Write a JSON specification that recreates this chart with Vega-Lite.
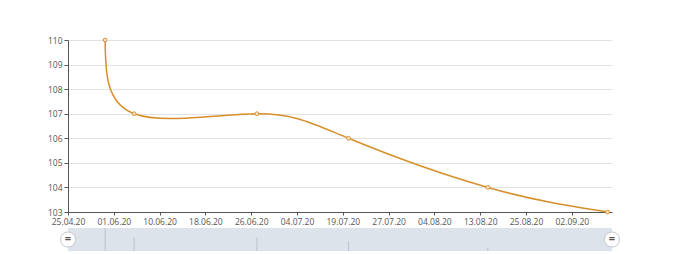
{
  "$schema": "https://vega.github.io/schema/vega-lite/v6.json",
  "padding": {"left": 47, "top": 36, "right": 5, "bottom": 0},
  "background": "white",
  "bounds": "flush",
  "config": {
    "font": "Open Sans",
    "view": {"stroke": null},
    "concat": {"spacing": 16}
  },
  "datasets": {
    "series": [
      {"date": "2020-05-25", "value": 110},
      {"date": "2020-06-05", "value": 107},
      {"date": "2020-06-27", "value": 107},
      {"date": "2020-07-20", "value": 106},
      {"date": "2020-08-15", "value": 104},
      {"date": "2020-09-10", "value": 103}
    ],
    "scroll": [
      {"handle": "start", "date": "2020-04-25"},
      {"handle": "end", "date": "2020-09-11"}
    ]
  },
  "vconcat": [
    {
      "width": 544,
      "height": 172,
      "data": {"name": "series", "format": {"parse": {"date": "date"}}},
      "encoding": {
        "x": {
          "field": "date",
          "type": "quantitative",
          "scale": {
            "type": "linear",
            "nice": false,
            "zero": false,
            "domain": [1587772800000, 1590969600000, 1591747200000, 1592438400000, 1593129600000, 1593820800000, 1595116800000, 1595808000000, 1596499200000, 1597276800000, 1598313600000, 1599004800000, 1599782400000],
            "range": [0, 45.8, 91.6, 137.4, 183.2, 229, 274.8, 320.6, 366.4, 412.2, 458, 503.8, 544]
          },
          "axis": {
            "title": null,
            "values": [1587772800000, 1590969600000, 1591747200000, 1592438400000, 1593129600000, 1593820800000, 1595116800000, 1595808000000, 1596499200000, 1597276800000, 1598313600000, 1599004800000],
            "labelExpr": "utcFormat(datum.value, '%d.%m.%y')",
            "grid": false,
            "domainColor": "#555555",
            "tickColor": "#555555",
            "tickSize": 3,
            "labelPadding": 2,
            "labelColor": "#555555",
            "labelFontSize": 8.5,
            "labelFont": "Open Sans",
            "labelOverlap": false,
            "labelFlush": false
          }
        },
        "y": {
          "field": "value",
          "type": "quantitative",
          "scale": {"domain": [103, 110], "nice": false, "zero": false},
          "axis": {
            "title": null,
            "values": [103, 104, 105, 106, 107, 108, 109, 110],
            "format": "d",
            "grid": true,
            "gridColor": "#e2e2e2",
            "domainColor": "#555555",
            "tickColor": "#555555",
            "tickSize": 4,
            "labelPadding": 2,
            "labelColor": "#555555",
            "labelFontSize": 8.5,
            "labelFont": "Open Sans"
          }
        }
      },
      "layer": [
        {
          "mark": {"type": "line", "interpolate": "natural", "color": "#d68f2a", "strokeWidth": 1.5}
        },
        {
          "mark": {"type": "point", "shape": "circle", "filled": true, "size": 14, "fill": "#fbe9cc", "stroke": "#d68f2a", "strokeWidth": 1, "opacity": 1}
        }
      ]
    },
    {
      "width": 544,
      "height": 23,
      "view": {"fill": "#dde3eb", "stroke": null},
      "encoding": {
        "x": {
          "field": "date",
          "type": "quantitative",
          "scale": {
            "type": "linear",
            "nice": false,
            "zero": false,
            "domain": [1587772800000, 1590969600000, 1591747200000, 1592438400000, 1593129600000, 1593820800000, 1595116800000, 1595808000000, 1596499200000, 1597276800000, 1598313600000, 1599004800000, 1599782400000],
            "range": [0, 45.8, 91.6, 137.4, 183.2, 229, 274.8, 320.6, 366.4, 412.2, 458, 503.8, 544]
          },
          "axis": null
        }
      },
      "layer": [
        {
          "data": {"name": "series", "format": {"parse": {"date": "date"}}},
          "mark": {"type": "rule", "color": "#b9c3cd", "strokeWidth": 1},
          "encoding": {
            "y": {
              "field": "value",
              "type": "quantitative",
              "scale": {"domain": [103, 110], "nice": false, "zero": false},
              "axis": null
            },
            "y2": {"datum": 103}
          }
        },
        {
          "data": {"name": "scroll", "format": {"parse": {"date": "date"}}},
          "mark": {"type": "point", "shape": "circle", "filled": true, "size": 230, "fill": "#ffffff", "stroke": "#c4c9cf", "strokeWidth": 1, "opacity": 1}
        },
        {
          "data": {"name": "scroll", "format": {"parse": {"date": "date"}}},
          "mark": {"type": "text", "text": "=", "fontSize": 11, "fontWeight": "bold", "color": "#555555", "align": "center", "baseline": "middle", "dy": -1}
        }
      ]
    }
  ]
}
